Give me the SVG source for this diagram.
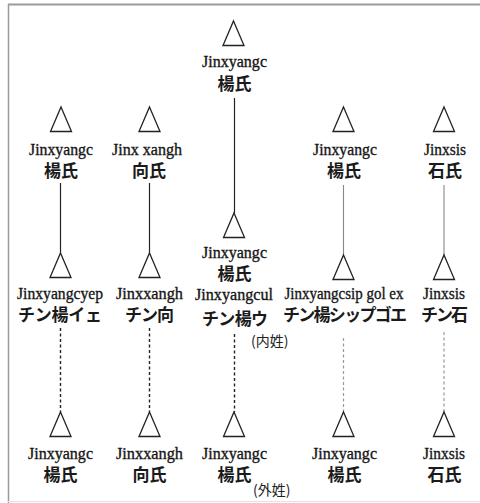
<svg xmlns="http://www.w3.org/2000/svg" width="480" height="503" viewBox="0 0 480 503">
<defs>
<style>
.lat{font-family:'Liberation Serif','DejaVu Serif',serif;font-size:17.5px;fill:#151515;stroke:#151515;stroke-width:0.35;text-anchor:middle}
.cjk{font-family:'Noto Sans CJK JP','Noto Sans CJK SC',sans-serif;font-size:17px;fill:#1a1a1a;text-anchor:middle;font-weight:bold}
.note{font-family:'Noto Sans CJK JP','Noto Sans CJK SC',sans-serif;font-size:14px;fill:#222}
.tri{fill:#fff;stroke:#222;stroke-width:1.3}
.solid{stroke:#222;stroke-width:1.2;fill:none}
.solidL{stroke:#888;stroke-width:1.1;fill:none}
.dash{stroke:#222;stroke-width:1.4;stroke-dasharray:3 2.5;fill:none}
.dashL{stroke:#999;stroke-width:1.2;stroke-dasharray:3 2.5;fill:none}
</style>
<path id="t" d="M0,0 L10.5,24.5 L-10.5,24.5 Z"/>
</defs>
<rect width="480" height="503" fill="#fff"/>
<g id="frame">
<line x1="8" y1="4.5" x2="480" y2="4.5" stroke="#9a9a9a" stroke-width="2"/>
<line x1="8.5" y1="4" x2="8.5" y2="503" stroke="#9a9a9a" stroke-width="1.5"/>
<line x1="8" y1="501.5" x2="480" y2="501.5" stroke="#e2e2e2" stroke-width="1"/>
</g>
<g id="connectors">
<line class="solid" x1="234.5" y1="98" x2="234.5" y2="213"/>
<line class="solid" x1="60.5" y1="183" x2="60.5" y2="253"/>
<line class="solid" x1="149.5" y1="183" x2="149.5" y2="253"/>
<line class="solidL" x1="343.5" y1="185" x2="343.5" y2="255"/>
<line class="solidL" x1="444" y1="185" x2="444" y2="255"/>
<line class="dash" x1="60.5" y1="328" x2="60.5" y2="412"/>
<line class="dash" x1="149.5" y1="328" x2="149.5" y2="412"/>
<line class="dash" x1="234.5" y1="334" x2="234.5" y2="412"/>
<line class="dashL" x1="343.5" y1="338" x2="343.5" y2="412"/>
<line class="dashL" x1="444" y1="332" x2="444" y2="412"/>
</g>
<g id="n_top">
<use href="#t" class="tri" x="233.5" y="21"/>
<text class="lat" x="234.5" y="67" textLength="65" lengthAdjust="spacingAndGlyphs">Jinxyangc</text>
<text class="cjk" x="234.5" y="90">楊氏</text>
</g>
<g id="n_r1c1">
<use href="#t" class="tri" x="61" y="107"/>
<text class="lat" x="61" y="155" textLength="64" lengthAdjust="spacingAndGlyphs">Jinxyangc</text>
<text class="cjk" x="61" y="177">楊氏</text>
</g>
<g id="n_r1c2">
<use href="#t" class="tri" x="149.5" y="107"/>
<text class="lat" x="147" y="155" textLength="70" lengthAdjust="spacingAndGlyphs">Jinx xangh</text>
<text class="cjk" x="149" y="177">向氏</text>
</g>
<g id="n_r1c4">
<use href="#t" class="tri" x="343.5" y="107"/>
<text class="lat" x="345" y="155" textLength="64" lengthAdjust="spacingAndGlyphs">Jinxyangc</text>
<text class="cjk" x="344" y="177">楊氏</text>
</g>
<g id="n_r1c5">
<use href="#t" class="tri" x="444" y="107"/>
<text class="lat" x="445" y="155" textLength="42" lengthAdjust="spacingAndGlyphs">Jinxsis</text>
<text class="cjk" x="445" y="177">石氏</text>
</g>
<g id="n_r2c1">
<use href="#t" class="tri" x="60.5" y="253"/>
<text class="lat" x="60" y="299" textLength="86" lengthAdjust="spacingAndGlyphs">Jinxyangcyep</text>
<text class="cjk" x="60" y="321" textLength="84">チン楊イェ</text>
</g>
<g id="n_r2c2">
<use href="#t" class="tri" x="149.5" y="253"/>
<text class="lat" x="149.5" y="299" textLength="67" lengthAdjust="spacingAndGlyphs">Jinxxangh</text>
<text class="cjk" x="149.5" y="321" textLength="49">チン向</text>
</g>
<g id="n_r2c3">
<use href="#t" class="tri" x="234" y="213"/>
<text class="lat" x="234.5" y="258" textLength="65" lengthAdjust="spacingAndGlyphs">Jinxyangc</text>
<text class="cjk" x="234.5" y="280">楊氏</text>
<text class="lat" x="234" y="300" textLength="78" lengthAdjust="spacingAndGlyphs">Jinxyangcul</text>
<text class="cjk" x="235" y="325" textLength="66">チン楊ウ</text>
<text class="note" x="251" y="346">(内姓)</text>
</g>
<g id="n_r2c4">
<use href="#t" class="tri" x="343.5" y="255"/>
<text class="lat" x="344" y="299" textLength="119" lengthAdjust="spacingAndGlyphs">Jinxyangcsip gol ex</text>
<text class="cjk" x="345" y="321" textLength="124">チン楊シップゴエ</text>
</g>
<g id="n_r2c5">
<use href="#t" class="tri" x="444" y="255"/>
<text class="lat" x="444" y="299" textLength="42" lengthAdjust="spacingAndGlyphs">Jinxsis</text>
<text class="cjk" x="444.5" y="321" textLength="47">チン石</text>
</g>
<g id="n_r3c1">
<use href="#t" class="tri" x="60.5" y="412"/>
<text class="lat" x="60.5" y="459" textLength="65" lengthAdjust="spacingAndGlyphs">Jinxyangc</text>
<text class="cjk" x="60.5" y="481">楊氏</text>
</g>
<g id="n_r3c2">
<use href="#t" class="tri" x="149.5" y="412"/>
<text class="lat" x="149.5" y="459" textLength="67" lengthAdjust="spacingAndGlyphs">Jinxxangh</text>
<text class="cjk" x="149.5" y="481">向氏</text>
</g>
<g id="n_r3c3">
<use href="#t" class="tri" x="234" y="412"/>
<text class="lat" x="234.5" y="459" textLength="65" lengthAdjust="spacingAndGlyphs">Jinxyangc</text>
<text class="cjk" x="234.5" y="481">楊氏</text>
<text class="note" x="253" y="495" font-size="13">(外姓)</text>
</g>
<g id="n_r3c4">
<use href="#t" class="tri" x="343.5" y="412"/>
<text class="lat" x="344.5" y="459" textLength="65" lengthAdjust="spacingAndGlyphs">Jinxyangc</text>
<text class="cjk" x="344.5" y="481">楊氏</text>
</g>
<g id="n_r3c5">
<use href="#t" class="tri" x="444" y="412"/>
<text class="lat" x="444" y="459" textLength="42" lengthAdjust="spacingAndGlyphs">Jinxsis</text>
<text class="cjk" x="444.5" y="481">石氏</text>
</g>
</svg>
